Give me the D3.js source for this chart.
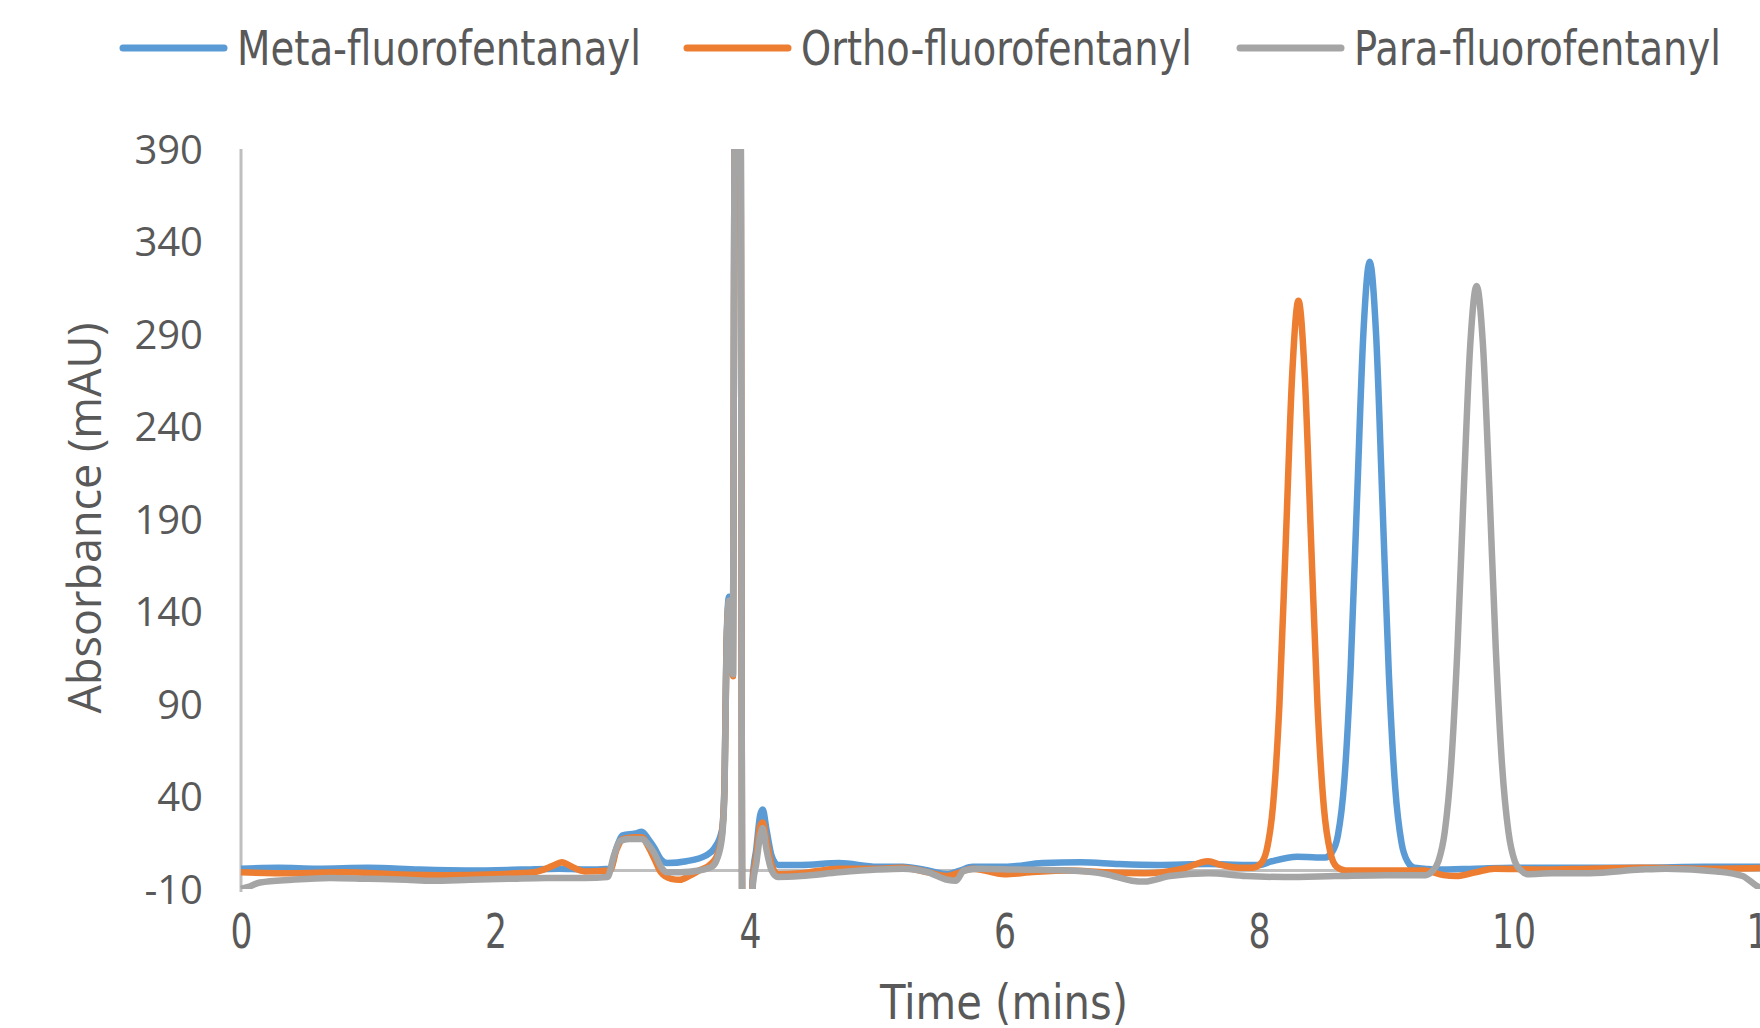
<!DOCTYPE html>
<html>
<head>
<meta charset="utf-8">
<script src="https://cdn.jsdelivr.net/npm/d3@7"></script>
<style>
  html, body { margin: 0; padding: 0; background: #fff; }
  svg { display: block; }
</style>
</head>
<body>
<script>
// chromatogram: three fluorofentanyl isomers, absorbance vs retention time

const seriesNames = ['Meta-fluorofentanayl', 'Ortho-fluorofentanyl', 'Para-fluorofentanyl']
const seriesColors = ['#5b9bd5', '#ed7d31', '#a5a5a5']

const xTicks = [0, 2, 4, 6, 8, 10, 12]
const yTicks = [-10, 40, 90, 140, 190, 240, 290, 340, 390]

// meta (blue)
const metaTime = [0, 0.3, 0.6, 1.0, 1.4, 1.8, 2.2, 2.5, 2.7, 2.9, 2.95, 3.0, 3.1, 3.15, 3.2, 3.25, 3.3, 3.35, 3.5, 3.65, 3.72, 3.78,
  3.80, 3.815, 3.835, 3.866, 3.874, 3.880, 3.925, 3.94, 4.01, 4.02, 4.05, 4.08, 4.10, 4.13, 4.17, 4.22, 4.4, 4.7, 5.0, 5.2,
  5.4, 5.55, 5.65, 5.75, 6.0, 6.3, 6.6, 6.9, 7.2, 7.6, 7.9, 8.0, 8.1, 8.3, 8.45, 8.52, 8.57, 8.62, 8.67, 8.72, 8.77, 8.82, 8.87,
  8.92, 8.97, 9.02, 9.07, 9.12, 9.17, 9.22, 9.3, 9.4, 9.7, 10.0, 10.5, 11.0, 11.5, 12.0]
const metaAbs = [1, 1.5, 1, 1.5, 0.5, 0, 0.5, 1, 0.5, 1, 12, 19, 20, 21, 17, 12, 6, 4, 5, 8, 12, 22,
  48, 122, 148, 106, 300, 430, 430, -40, -40, -5, 12, 30, 33, 22, 8, 3, 3, 4, 2, 2,
  0, -2, 0, 2, 2, 4, 4.5, 3.5, 3, 3.5, 3, 3, 5, 7.5, 7, 7, 9.5, 19, 48, 109, 200, 290, 329,
  290, 199, 107, 45, 15, 4.5, 1.5, 1, 0.5, 1, 1.5, 1.5, 1.5, 2, 2]

// ortho (orange)
const orthoTime = [0, 0.4, 0.8, 1.2, 1.6, 2.0, 2.3, 2.45, 2.52, 2.6, 2.7, 2.9, 2.95, 3.0, 3.1, 3.15, 3.2, 3.25, 3.3, 3.38, 3.45,
  3.52, 3.6, 3.7, 3.74, 3.78, 3.80, 3.815, 3.835, 3.866, 3.874, 3.880, 3.925, 3.94, 4.01, 4.02, 4.05, 4.08, 4.10, 4.13,
  4.17, 4.22, 4.4, 4.7, 5.0, 5.2, 5.4, 5.55, 5.65, 5.75, 6.0, 6.2, 6.5, 6.8, 7.1, 7.4, 7.6, 7.7, 7.85, 7.95, 8.01, 8.06, 8.11,
  8.16, 8.21, 8.26, 8.31, 8.36, 8.41, 8.46, 8.51, 8.56, 8.61, 8.68, 9.0, 9.3, 9.45, 9.55, 9.7, 9.85, 10.2, 10.6, 11.0,
  11.5, 12.0]
const orthoAbs = [-1, -1.5, -1, -2, -2.5, -2, -1, 2.5, 4.5, 2, -0.5, 0, 11, 17, 18, 18, 13, 6, -1, -4.5, -5,
  -3, 0, 4, 8, 20, 46, 120, 145, 105, 300, 430, 430, -40, -40, -8, 8, 24, 26, 16,
  3, -2, -1.5, 1, 1, 1.5, -1, -3, -1, 1, -2, -1, 0, -1, -1.5, 1, 5, 3, 1.5, 1.5, 3.5, 11, 35,
  89, 177, 267, 308, 267, 177, 89, 34, 10, 2, 0, 0, 0, -2.5, -3, -1, 1, 0.5, 1, 1.5,
  1, 1.5]

// para (grey)
const paraTime = [0, 0.05, 0.15, 0.4, 0.7, 1.0, 1.3, 1.5, 1.8, 2.1, 2.4, 2.7, 2.88, 2.93, 2.98, 3.05, 3.15, 3.2, 3.25, 3.3, 3.35,
  3.45, 3.6, 3.7, 3.74, 3.78, 3.80, 3.815, 3.835, 3.866, 3.874, 3.880, 3.925, 3.94, 4.01, 4.02, 4.05, 4.08, 4.10, 4.13,
  4.17, 4.22, 4.4, 4.7, 5.0, 5.2, 5.4, 5.55, 5.62, 5.68, 5.8, 6.1, 6.5, 6.8, 7.0, 7.1, 7.3, 7.6, 7.9, 8.2, 8.6, 9.0, 9.31,
  9.36, 9.41, 9.46, 9.51, 9.56, 9.61, 9.66, 9.71, 9.76, 9.81, 9.86, 9.91, 9.96, 10.01, 10.06, 10.11, 10.3, 10.6, 11.0, 11.2,
  11.6, 11.8, 11.93, 12.0]
const paraAbs = [-10, -9, -6.5, -5, -4, -4.5, -5, -5.5, -5, -4.5, -4, -4, -3.5, 8, 16, 17, 17, 14, 9, 2, -1,
  -1, 0, 2, 6, 18, 44, 118, 146, 106, 300, 430, 430, -40, -40, -10, 4, 19, 23, 11,
  0, -3.5, -3, -1, 0.5, 1, -1, -5, -5.5, 0, 1, 0.5, 0, -2, -5.5, -6, -3, -1.5, -3, -3.5, -3, -2.5, -2.5,
  -0.5, 5, 21, 57, 121, 207, 284, 316, 284, 207, 121, 57, 21, 5, 0, -2, -1.5, -1.5, 0.5, 1,
  -0.5, -3, -9, -10]

const W = 1760, H = 1028
const svg = d3.select('body').append('svg').attr('width', W).attr('height', H)

const x = d3.scaleLinear().domain([0, 12]).range([241, 1768])
const y = d3.scaleLinear().domain([-10, 390]).range([889, 149])

const textGrey = '#595959'
const axisGrey = '#bfbfbf'
const narrowFont = '"Liberation Sans Narrow", "DejaVu Sans Condensed", "Liberation Sans", sans-serif'
const wideFont = '"Open Sans", "Noto Sans", sans-serif'

svg.append('clipPath').attr('id', 'plotclip')
  .append('rect').attr('x', 230).attr('y', y(390)).attr('width', W - 230).attr('height', y(-10) - y(390))

// y axis line and the horizontal axis at zero
svg.append('line')
  .attr('x1', x(0)).attr('x2', x(0)).attr('y1', y(390)).attr('y2', y(-10) + 3)
  .attr('stroke', axisGrey).attr('stroke-width', 3)
svg.append('line')
  .attr('x1', x(0)).attr('x2', x(12)).attr('y1', y(0)).attr('y2', y(0))
  .attr('stroke', axisGrey).attr('stroke-width', 3)

// tick labels (plain hyphen for negatives, like the original)
const yAxis = svg.append('g').attr('transform', 'translate(' + 203 + ',0)')
  .call(d3.axisLeft(y).tickValues(yTicks).tickSize(0).tickPadding(0).tickFormat(d => String(d)))
yAxis.select('.domain').remove()
yAxis.selectAll('text')
  .attr('font-family', wideFont).attr('font-size', 40).attr('fill', textGrey)
  .attr('dy', '0.36em')

const xAxis = svg.append('g').attr('transform', 'translate(0,' + 914 + ')')
  .call(d3.axisBottom(x).tickValues(xTicks).tickSize(0).tickPadding(0).tickFormat(d => String(d)))
xAxis.select('.domain').remove()
xAxis.selectAll('text')
  .attr('font-family', narrowFont).attr('font-size', 48).attr('fill', textGrey)
  .attr('dy', '0.71em')
  .attr('textLength', d => String(d).length * 22).attr('lengthAdjust', 'spacingAndGlyphs')

// axis titles
svg.append('text')
  .attr('x', 1004).attr('y', 1019)
  .attr('text-anchor', 'middle')
  .attr('font-family', narrowFont).attr('font-size', 48).attr('fill', textGrey)
  .attr('textLength', 248).attr('lengthAdjust', 'spacingAndGlyphs')
  .text('Time (mins)')

svg.append('text')
  .attr('transform', 'translate(101,518) rotate(-90)')
  .attr('text-anchor', 'middle')
  .attr('font-family', wideFont).attr('font-size', 45).attr('fill', textGrey)
  .text('Absorbance (mAU)')

// series
const seriesData = [
  metaTime.map((t, i) => [t, metaAbs[i]]),
  orthoTime.map((t, i) => [t, orthoAbs[i]]),
  paraTime.map((t, i) => [t, paraAbs[i]])
]

const line = d3.line()
  .x(d => x(d[0]))
  .y(d => y(d[1]))
  .curve(d3.curveMonotoneX)

const plotg = svg.append('g').attr('clip-path', 'url(#plotclip)')
plotg.selectAll('path.series')
  .data(seriesData)
  .enter()
  .append('path')
  .attr('class', 'series')
  .attr('d', line)
  .attr('fill', 'none')
  .attr('stroke', (d, i) => seriesColors[i])
  .attr('stroke-width', 6.5)
  .attr('stroke-linejoin', 'round')

// legend
const legendX = [123, 687, 1240]
const legendTextW = [404, 391, 367]
const legendg = svg.append('g').attr('id', 'legend')
seriesNames.forEach((name, i) => {
  legendg.append('line')
    .attr('x1', legendX[i]).attr('x2', legendX[i] + 101)
    .attr('y1', 48).attr('y2', 48)
    .attr('stroke', seriesColors[i]).attr('stroke-width', 7)
    .attr('stroke-linecap', 'round')
  legendg.append('text')
    .attr('x', legendX[i] + 114).attr('y', 65)
    .attr('font-family', narrowFont).attr('font-size', 48).attr('fill', textGrey)
    .attr('textLength', legendTextW[i]).attr('lengthAdjust', 'spacingAndGlyphs')
    .text(name)
})
</script>
</body>
</html>
